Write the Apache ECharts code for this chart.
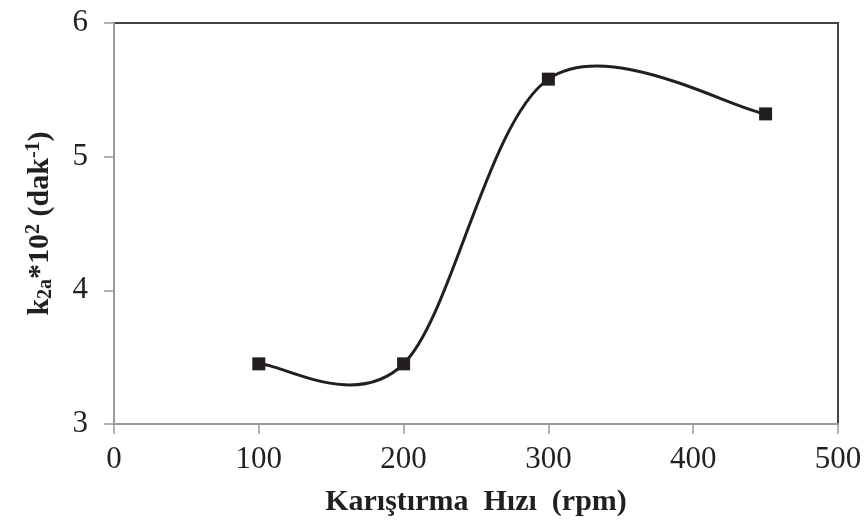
<!DOCTYPE html>
<html>
<head>
<meta charset="utf-8">
<script src="https://cdn.jsdelivr.net/npm/echarts@6/dist/echarts.min.js"></script>
<style>
  html, body { margin: 0; padding: 0; background: #fff; }
  #chart { width: 866px; height: 525px; }
</style>
</head>
<body>
<div id="chart"></div>
<script>
const SPEEDS = [100, 200, 300, 450];
const K2A = [3.45, 3.45, 5.58, 5.32];
const X_RANGE = [0, 500, 100];
const Y_RANGE = [3, 6, 1];

const chart = echarts.init(document.getElementById("chart"));
const serif = "Liberation Serif, Times New Roman, serif";
const ink = "#231f20";

// Excel-like smoothed line: bezier segments with control points from the neighbours
function renderSegment(params, api) {
  const i = params.dataIndex;
  if (i >= SPEEDS.length - 1) {
    return null;
  }
  const last = SPEEDS.length - 1;
  const pt = (k) => {
    const j = Math.max(0, Math.min(last, k));
    return api.coord([SPEEDS[j], K2A[j]]);
  };
  const p0 = pt(i - 1);
  const p1 = pt(i);
  const p2 = pt(i + 1);
  const p3 = pt(i + 2);
  return {
    type: "bezierCurve",
    shape: {
      x1: p1[0], y1: p1[1],
      x2: p2[0], y2: p2[1],
      cpx1: p1[0] + (p2[0] - p0[0]) / 6, cpy1: p1[1] + (p2[1] - p0[1]) / 6,
      cpx2: p2[0] - (p3[0] - p1[0]) / 6, cpy2: p2[1] - (p3[1] - p1[1]) / 6
    },
    style: { stroke: ink, lineWidth: 3, fill: null }
  };
}

chart.setOption({
  animation: false,
  grid: {
    left: 114, right: 28, top: 23, bottom: 101,
    show: true, borderColor: "#444", borderWidth: 2
  },
  xAxis: {
    type: "value",
    min: X_RANGE[0], max: X_RANGE[1], interval: X_RANGE[2],
    name: "Karıştırma  Hızı  (rpm)",
    nameLocation: "middle",
    nameGap: 63,
    nameTextStyle: { fontFamily: serif, fontSize: 30, fontWeight: "bold", color: ink },
    axisLine: { lineStyle: { color: "#999", width: 2 } },
    axisTick: { show: true, length: 10, lineStyle: { color: "#999", width: 1.5 } },
    axisLabel: { fontFamily: serif, fontSize: 31, color: ink, margin: 20 },
    splitLine: { show: false }
  },
  yAxis: {
    type: "value",
    min: Y_RANGE[0], max: Y_RANGE[1], interval: Y_RANGE[2],
    name: "{b|k}{s|2a}{b|*10}{p|2}{b| (dak}{p|-1}{b|)}",
    nameLocation: "middle",
    nameGap: 58,
    nameRotate: 90,
    nameTextStyle: {
      fontFamily: serif, color: ink,
      rich: {
        b: { fontFamily: serif, fontSize: 30, fontWeight: "bold", color: ink },
        s: { fontFamily: serif, fontSize: 20, fontWeight: "bold", color: ink, verticalAlign: "bottom", padding: [12, 0, 0, 0] },
        p: { fontFamily: serif, fontSize: 20, fontWeight: "bold", color: ink, verticalAlign: "top", padding: [0, 0, 12, 0] }
      }
    },
    axisLine: { show: true, lineStyle: { color: "#999", width: 2 } },
    axisTick: { show: true, length: 10, lineStyle: { color: "#999", width: 1.5 } },
    axisLabel: { fontFamily: serif, fontSize: 31, color: ink, margin: 26 },
    splitLine: { show: false }
  },
  series: [
    {
      type: "custom",
      renderItem: renderSegment,
      data: SPEEDS.map((x, i) => [x, K2A[i]]),
      z: 2
    },
    {
      type: "scatter",
      data: SPEEDS.map((x, i) => [x, K2A[i]]),
      symbol: "rect",
      symbolSize: 13,
      itemStyle: { color: ink, opacity: 1 },
      z: 3
    }
  ]
});
</script>
</body>
</html>
